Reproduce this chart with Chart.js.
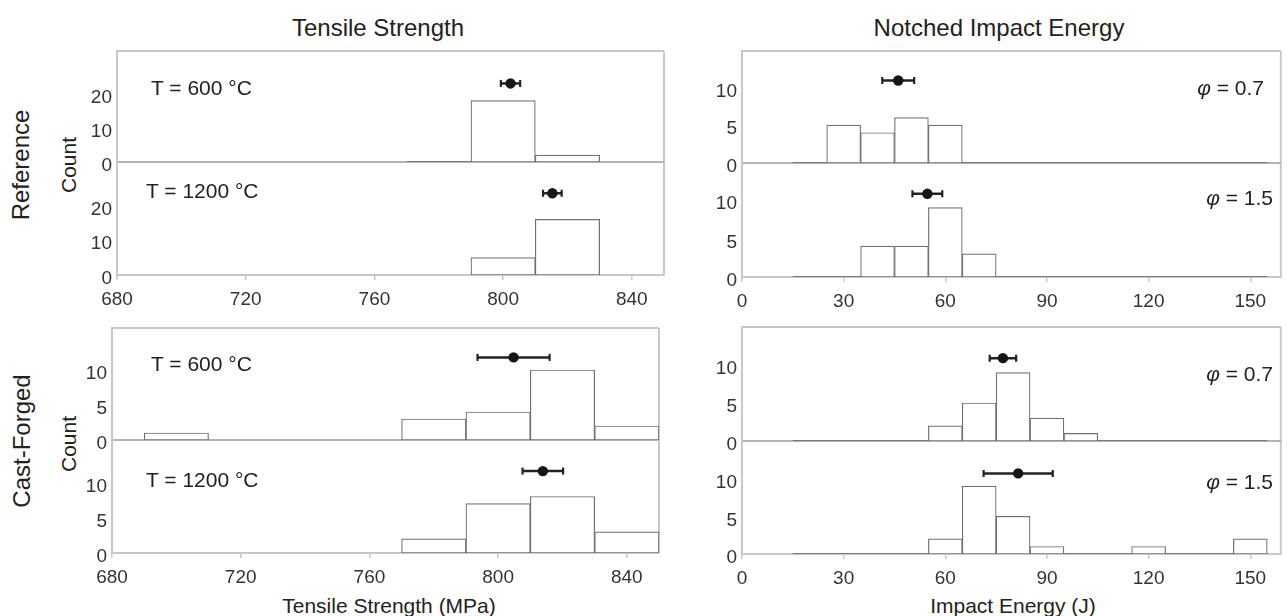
<!DOCTYPE html>
<html><head><meta charset="utf-8">
<script src="https://cdn.jsdelivr.net/npm/chart.js@4.4.1/dist/chart.umd.min.js"></script>
<style>
html,body{margin:0;padding:0;background:#fff;}
#fig{position:relative;width:1287px;height:616px;overflow:hidden;font-family:"Liberation Sans",Arial,sans-serif;color:#222;}
.cv{position:absolute;}
.t{position:absolute;white-space:nowrap;line-height:1;}
.ctr{transform:translate(-50%,-50%);}
.rot{transform:translate(-50%,-50%) rotate(-90deg);}
.lft{transform:translate(0,-50%);}
.rgt{transform:translate(-100%,-50%);}
</style></head><body>
<div id="fig">
  <div class="t ctr" style="left:378px;top:28px;font-size:24px;">Tensile Strength</div>
  <div class="t ctr" style="left:999px;top:28px;font-size:24px;">Notched Impact Energy</div>
  <div class="t rot" style="left:21px;top:165px;font-size:24px;">Reference</div>
  <div class="t rot" style="left:22px;top:441px;font-size:24px;">Cast-Forged</div>
  <div class="t rot" style="left:68px;top:165px;font-size:21px;">Count</div>
  <div class="t rot" style="left:68px;top:444px;font-size:21px;">Count</div>
  <div class="t ctr" style="left:389px;top:605px;font-size:21px;">Tensile Strength (MPa)</div>
  <div class="t ctr" style="left:1013px;top:605px;font-size:21px;">Impact Energy (J)</div>
</div>
<script>
// ---------------- data ----------------
const tensileTicks = [680, 720, 760, 800, 840];
const impactTicks = [0, 30, 60, 90, 120, 150];
const countTicksRef = [0, 10, 20];
const countTicksCF = [0, 5, 10];
const countTicksImpact = [0, 5, 10];
const tensileBinWidth = 20;
const impactBinWidth = 10;

// tensile strength histograms (bin start, counts)
const refT600Bins = [770, 790, 810];
const refT600Counts = [0, 18, 2];
const refT1200Bins = [790, 810];
const refT1200Counts = [5, 16];
const cfT600Bins = [690, 770, 790, 810, 830];
const cfT600Counts = [1, 3, 4, 10, 2];
const cfT1200Bins = [770, 790, 810, 830];
const cfT1200Counts = [2, 7, 8, 3];

// impact energy histograms
const impactBins = [15, 25, 35, 45, 55, 65, 75, 85, 95, 105, 115, 125, 135, 145];
const refPhi07Counts = [0, 5, 4, 6, 5, 0, 0, 0, 0, 0, 0, 0, 0, 0];
const refPhi15Counts = [0, 0, 4, 4, 9, 3, 0, 0, 0, 0, 0, 0, 0, 0];
const cfPhi07Counts = [0, 0, 0, 0, 2, 5, 9, 3, 1, 0, 0, 0, 0, 0];
const cfPhi15Counts = [0, 0, 0, 0, 2, 9, 5, 1, 0, 0, 1, 0, 0, 2];

// mean, half-width of error bar, count level where the mean marker sits
const refT600Stat = [802.3, 3.0, 23];
const refT1200Stat = [815.3, 2.9, 23.5];
const cfT600Stat = [804.8, 11.2, 11.8];
const cfT1200Stat = [813.9, 6.3, 11.6];
const refPhi07Stat = [46.1, 4.7, 10.9];
const refPhi15Stat = [54.7, 4.4, 10.8];
const cfPhi07Stat = [77.0, 3.9, 10.9];
const cfPhi15Stat = [81.5, 10.2, 10.7];

// ---------------- rendering ----------------
const FONT = '"Liberation Sans", Arial, sans-serif';
const AXIS = '#c8c8c8';
const fig = document.getElementById('fig');

const framePlugin = {
  id: 'frame',
  beforeDatasetsDraw(chart, args, o) {
    const {ctx, chartArea: a} = chart;
    ctx.save();
    const seg = (x1, y1, x2, y2, c, w) => {
      ctx.strokeStyle = c; ctx.lineWidth = w;
      ctx.beginPath(); ctx.moveTo(x1, y1); ctx.lineTo(x2, y2); ctx.stroke();
    };
    if (o.top) seg(a.left, a.top, a.right, a.top, o.top, 2);
    if (o.right) seg(a.right, a.top, a.right, a.bottom, o.right, 2);
    if (o.bottom) seg(a.left, a.bottom, a.right, a.bottom, o.bottom, 1.5);
    ctx.restore();
  }
};

function histData(bins, counts, w) { return bins.map((b, i) => ({x: b + w / 2, y: counts[i]})); }
function baseData(bins, w) {
  const out = [];
  bins.forEach((b, i) => {
    out.push({x: b, y: 0}, {x: b + w, y: 0});
    if (i < bins.length - 1 && bins[i + 1] !== b + w) out.push({x: b + w, y: null});
  });
  return out;
}
function errData(s) { return [{x: s[0] - s[1], y: s[2]}, {x: s[0] + s[1], y: s[2]}]; }

function panel(g, isBottom, xMin, xMax, xTicks, yMax, yTicks, bins, counts, w, stat, frameTop) {
  const padR = Math.min(10, 1287 - g.R);
  const cl = g.L - 60, ct = g.T - 20;
  const cw = g.R + padR - cl;
  const ch = (isBottom ? g.B + 40 : g.B + 20) - ct;
  const cv = document.createElement('canvas');
  cv.className = 'cv';
  cv.width = cw; cv.height = ch;
  cv.style.left = cl + 'px'; cv.style.top = ct + 'px';
  cv.style.width = cw + 'px'; cv.style.height = ch + 'px';
  fig.appendChild(cv);
  new Chart(cv, {
    type: 'bar',
    data: {
      datasets: [
        {type: 'line', data: baseData(bins, w), borderColor: '#7a7a7a', borderWidth: 2,
         pointRadius: 0, spanGaps: false, order: 4},
        {type: 'bar', data: histData(bins, counts, w), backgroundColor: '#ffffff',
         borderColor: '#707070', borderWidth: 1.2, borderSkipped: false,
         barPercentage: 1, categoryPercentage: 1, order: 3},
        {type: 'line', data: errData(stat), borderColor: '#222', borderWidth: 2.5,
         pointStyle: 'line', rotation: 90, pointRadius: 3.5, pointBorderWidth: 2.2,
         pointBorderColor: '#222', order: 2},
        {type: 'line', data: [{x: stat[0], y: stat[2]}], showLine: false,
         pointStyle: 'circle', pointRadius: 5.2, pointBackgroundColor: '#151515',
         pointBorderWidth: 0, order: 1}
      ]
    },
    options: {
      responsive: false, animation: false, devicePixelRatio: 1,
      layout: {padding: {left: 0, right: padR, top: 20, bottom: isBottom ? 0 : 20}},
      plugins: {
        legend: {display: false}, tooltip: {enabled: false},
        frame: {top: frameTop ? AXIS : null, right: AXIS, bottom: isBottom ? null : '#9a9a9a'}
      },
      scales: {
        x: {
          type: 'linear', min: xMin, max: xMax, display: isBottom, position: 'bottom', offset: false,
          afterBuildTicks: s => { s.ticks = xTicks.map(v => ({value: v})); },
          afterFit: s => { s.height = isBottom ? 40 : 0; },
          grid: {display: true, offset: false, drawOnChartArea: false, drawTicks: true, tickLength: 5, color: AXIS, lineWidth: 1.5},
          border: {display: true, color: AXIS, width: 2},
          ticks: {font: {family: FONT, size: 19}, color: '#333', padding: 8, maxRotation: 0, autoSkip: false}
        },
        y: {
          type: 'linear', min: 0, max: yMax, position: 'left',
          afterBuildTicks: s => { s.ticks = yTicks.map(v => ({value: v})); },
          afterFit: s => { s.width = 60; },
          grid: {display: false, drawTicks: false},
          border: {display: true, color: AXIS, width: 2},
          ticks: {font: {family: FONT, size: 19}, color: '#333', padding: 5, labelOffset: 4}
        }
      }
    },
    plugins: [framePlugin]
  });
}

// Reference / tensile
panel({L: 117, R: 664, T: 51, B: 162}, false, 680, 850, tensileTicks, 32.5, countTicksRef,
      refT600Bins, refT600Counts, tensileBinWidth, refT600Stat, true);
panel({L: 117, R: 664, T: 162, B: 275}, true, 680, 850, tensileTicks, 32.5, countTicksRef,
      refT1200Bins, refT1200Counts, tensileBinWidth, refT1200Stat, false);
// Cast-forged / tensile
panel({L: 112, R: 659, T: 328, B: 440}, false, 680, 850, tensileTicks, 16, countTicksCF,
      cfT600Bins, cfT600Counts, tensileBinWidth, cfT600Stat, true);
panel({L: 112, R: 659, T: 440, B: 553}, true, 680, 850, tensileTicks, 16, countTicksCF,
      cfT1200Bins, cfT1200Counts, tensileBinWidth, cfT1200Stat, false);
// Reference / impact
panel({L: 742, R: 1286, T: 51, B: 163}, false, 0, 159, impactTicks, 14.8, countTicksImpact,
      impactBins, refPhi07Counts, impactBinWidth, refPhi07Stat, true);
panel({L: 742, R: 1286, T: 163, B: 277}, true, 0, 159, impactTicks, 14.8, countTicksImpact,
      impactBins, refPhi15Counts, impactBinWidth, refPhi15Stat, false);
// Cast-forged / impact
panel({L: 742, R: 1286, T: 327, B: 441}, false, 0, 159, impactTicks, 15, countTicksImpact,
      impactBins, cfPhi07Counts, impactBinWidth, cfPhi07Stat, true);
panel({L: 742, R: 1286, T: 441, B: 554}, true, 0, 159, impactTicks, 15, countTicksImpact,
      impactBins, cfPhi15Counts, impactBinWidth, cfPhi15Stat, false);

// panel annotations
const notes = [
  ['lft', 151, 87, 'T = 600 °C'], ['lft', 146, 190, 'T = 1200 °C'],
  ['lft', 151, 363, 'T = 600 °C'], ['lft', 146, 479, 'T = 1200 °C'],
  ['rgt', 1264, 87, '<i>φ</i> = 0.7'], ['rgt', 1273, 197, '<i>φ</i> = 1.5'],
  ['rgt', 1273, 373, '<i>φ</i> = 0.7'], ['rgt', 1273, 481, '<i>φ</i> = 1.5']
];
notes.forEach(n => {
  const d = document.createElement('div');
  d.className = 't ' + n[0];
  d.style.left = n[1] + 'px'; d.style.top = n[2] + 'px'; d.style.fontSize = '21px';
  d.innerHTML = n[3];
  fig.appendChild(d);
});
</script>
</body></html>
